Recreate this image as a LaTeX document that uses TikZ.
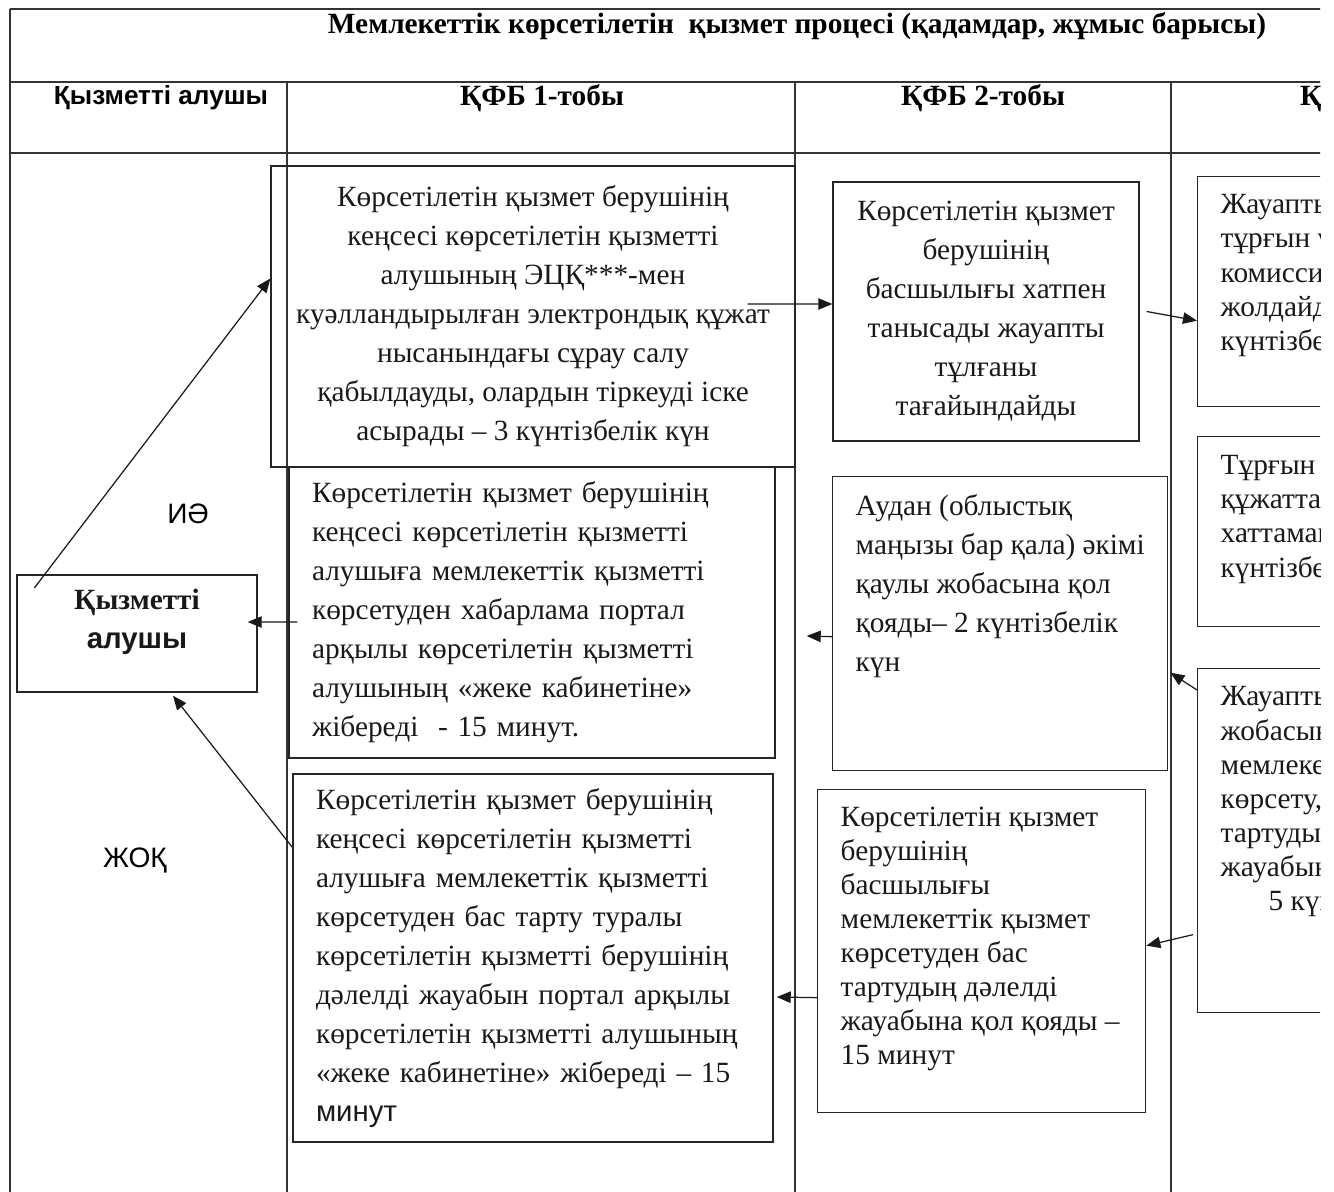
\documentclass[tikz,border=0pt]{standalone}
\usepackage{fontspec}
\setmainfont{Liberation Serif}
\newfontfamily\lsans{Liberation Sans}
\usetikzlibrary{arrows.meta}
\newcommand{\topcell}[3]{\parbox[c][#2][t]{#1}{\raggedright #3}}

\begin{document}
\begin{tikzpicture}[x=0.02cm, y=-0.02cm,
                    frame line/.style={line width=1.1pt, black!80},
                    box/.style={draw, line width=0.8pt, black!85, text=black!90, inner sep=0pt,
                                font=\fontsize{16.7}{22.2}\selectfont},
                    tight box/.style={box, font=\fontsize{16.7}{19.4}\selectfont},
                    head/.style={font=\bfseries\fontsize{16.7}{18}\selectfont, text=black},
                    arr/.style={-{Triangle[length=8pt, width=6.5pt]}, line width=0.7pt, black!90}]

  \useasboundingbox (0,0) rectangle (1334,1192);
  \begin{scope}
  \clip (0,0) rectangle (1320,1192);

  \draw[frame line] (10,9) -- (1330,9);
  \draw[frame line] (10,9) -- (10,1200);
  \draw[frame line] (10,82) -- (1330,82);
  \draw[frame line] (10,153) -- (1330,153);
  \draw[frame line] (287,82) -- (287,1200);
  \draw[frame line] (795,82) -- (795,1200);
  \draw[frame line] (1171,82) -- (1171,1200);

  \node[head] (title) at (797,26) {Мемлекеттік көрсетілетін~ қызмет процесі (қадамдар, жұмыс барысы)};
  \node[head, font=\lsans\bfseries\fontsize{14.9}{18}\selectfont] (h0) at (161,98) {Қызметті алушы};
  \node[head] (h1) at (542,98) {ҚФБ 1-тобы};
  \node[head] (h2) at (983,98) {ҚФБ 2-тобы};
  \node[head, anchor=west] (h3) at (1294,98) {ҚФБ 3-тобы};

  \node[box, minimum width=10.48cm, minimum height=6.02cm, align=center] (a) at (533,316.5)
    {Көрсетілетін қызмет берушінің\\ кеңсесі көрсетілетін қызметті\\ алушының ЭЦҚ***-мен\\
     куәлландырылған электрондық құжат\\ нысанындағы сұрау салу\\
     қабылдауды, олардын тіркеуді іске\\ асырады – 3 күнтізбелік күн};
  \node[box, minimum width=6.12cm, minimum height=5.18cm, align=center] (b) at (986,311.5)
    {Көрсетілетін қызмет\\ берушінің\\ басшылығы хатпен\\ танысады жауапты\\ тұлғаны\\ тағайындайды};
  \node[tight box, anchor=north west, inner xsep=0.46cm, inner ysep=0.36cm] (c) at (1197,176)
    {\topcell{4.6cm}{3.88cm}{Жауапты тұлға\\ тұрғын үй\\ комиссиясына\\ жолдайды\\ күнтізбелік күн}};
  \node[tight box, anchor=north west, inner xsep=0.46cm, inner ysep=0.36cm] (d) at (1197,436)
    {\topcell{4.6cm}{3.08cm}{Тұрғын үй\\ құжаттарды\\ хаттамамен\\ күнтізбелік күн}};
  \node[tight box, anchor=north west, inner xsep=0.46cm, inner ysep=0.36cm] (e) at (1197,668)
    {\topcell{4.6cm}{6.16cm}{Жауапты тұлға\\ жобасын\\ мемлекеттік\\ көрсету, бас\\ тартудың\\ жауабын\\ \hspace*{0.96cm}5 күнтізбелік}};
  \node[box, anchor=north west, inner xsep=0.46cm, inner ysep=0.36cm] (f) at (832,476)
    {\topcell{5.78cm}{5.16cm}{Аудан (облыстық\\ маңызы бар қала) әкімі\\ қаулы жобасына қол\\ қояды– 2 күнтізбелік\\ күн}};
  \node[box, minimum width=9.72cm, minimum height=5.82cm, text width=8.8cm, align=left] (g) at (532,612.5)
    {Көрсетілетін қызмет берушінің\\ кеңсесі көрсетілетін қызметті\\ алушыға мемлекеттік қызметті\\
     көрсетуден хабарлама портал\\ арқылы көрсетілетін қызметті\\ алушының «жеке кабинетіне»\\
     жібереді~ - 15 минут.};
  \node[box, minimum width=9.6cm, minimum height=7.36cm, text width=8.68cm, align=left] (h) at (533,958)
    {Көрсетілетін қызмет берушінің\\ кеңсесі көрсетілетін қызметті\\ алушыға мемлекеттік қызметті\\
     көрсетуден бас тарту туралы\\ көрсетілетін қызметті берушінің\\ дәлелді жауабын портал арқылы\\
     көрсетілетін қызметті алушының\\ «жеке кабинетіне» жібереді – 15\\ {\lsans минут}};
  \node[tight box, anchor=north west, inner xsep=0.46cm, inner ysep=0.34cm] (i) at (817,789)
    {\topcell{5.64cm}{5.78cm}{Көрсетілетін қызмет\\ берушінің\\ басшылығы\\ мемлекеттік қызмет\\
     көрсетуден бас\\ тартудың дәлелді\\ жауабына қол қояды –\\ 15 минут}};
  \node[box, minimum width=4.8cm, minimum height=2.34cm, align=center] (j) at (137,633.5)
    {\raisebox{0.1cm}[0pt][0pt]{\begin{tabular}{@{}c@{}}\bfseries Қызметті\\ \lsans\bfseries алушы\end{tabular}}};

  \node[font=\lsans\fontsize{16}{18}\selectfont] (yes) at (188,514) {ИӘ};
  \node[font=\lsans\fontsize{16}{18}\selectfont] (no) at (135,860) {ЖОҚ};

  \path ([xshift=0.36cm, yshift=0.91cm]j.west) edge[arr] ([yshift=0.76cm]a.west)
        ([xshift=-0.96cm, yshift=0.25cm]a.east) edge[arr] ([yshift=0.15cm]b.west)
        ([xshift=0.14cm]b.east) edge[arr] ([yshift=-0.58cm]c.west)
        ([yshift=-0.44cm]e.north west) edge[arr] ([xshift=0.04cm, yshift=-0.98cm]f.east)
        ([xshift=-0.08cm, yshift=-1.88cm]e.west) edge[arr] ([yshift=0.11cm]i.east)
        ([yshift=-0.26cm]f.west) edge[arr] ([xshift=0.62cm, yshift=-0.47cm]g.east)
        ([xshift=0.18cm, yshift=-0.19cm]g.west) edge[arr] ([xshift=-0.2cm, yshift=0.23cm]j.east)
        ([yshift=-1.48cm]h.north west) edge[arr] ([xshift=0.72cm, yshift=-0.06cm]j.south)
        ([yshift=-0.93cm]i.west) edge[arr] ([xshift=0.06cm, yshift=-0.78cm]h.east);
  \end{scope}

\end{tikzpicture}
\end{document}
